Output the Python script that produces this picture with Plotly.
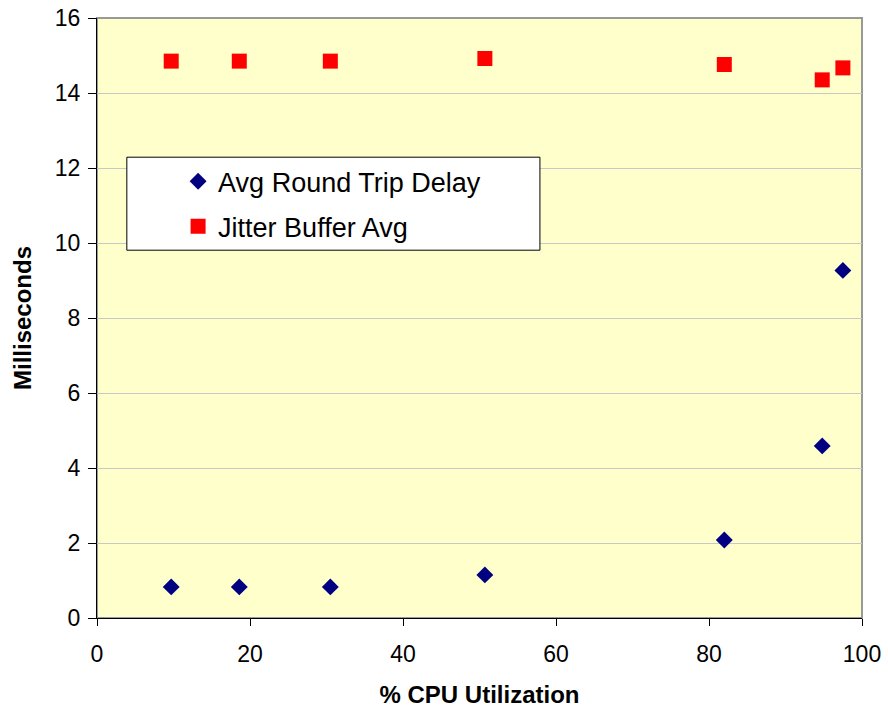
import plotly.graph_objects as go

cpu = [9.7, 18.6, 30.5, 50.7, 82.0, 94.8, 97.5]
rtt = [0.83, 0.83, 0.83, 1.15, 2.08, 4.59, 9.27]
jitter = [14.85, 14.85, 14.85, 14.92, 14.76, 14.35, 14.67]

FONT = "Liberation Sans, Arial"

fig = go.Figure()
fig.add_trace(go.Scatter(x=cpu, y=rtt, mode="markers", name="Avg Round Trip Delay",
                         legendgroup="a",
                         marker=dict(symbol="diamond", size=13, color="#000080")))
fig.add_trace(go.Scatter(x=cpu, y=jitter, mode="markers", name="Jitter Buffer Avg",
                         legendgroup="b",
                         marker=dict(symbol="square", size=15, color="#FF0000")))

fig.update_layout(
    width=888, height=711,
    margin=dict(l=97, r=26, t=18, b=93, autoexpand=False),
    paper_bgcolor="white", plot_bgcolor="#FFFFCC",
    font=dict(family=FONT, size=23, color="black"),
    showlegend=True,
    legend=dict(x=0.106, y=0.768, xanchor="left", yanchor="top",
                bgcolor="rgba(0,0,0,0)", borderwidth=0,
                font=dict(size=27, family=FONT), itemsizing="trace",
                traceorder="grouped", tracegroupgap=7),
    shapes=[
        dict(type="rect", xref="paper", yref="paper", x0=0, x1=1, y0=0, y1=1,
             line=dict(color="#999999", width=2), layer="below"),
        dict(type="rect", xref="paper", yref="paper", x0=0.039, x1=0.579, y0=0.613, y1=0.768,
             line=dict(color="black", width=1), fillcolor="white", layer="above"),
    ],
)
fig.update_xaxes(range=[0, 100], tick0=0, dtick=20, showgrid=False, zeroline=False,
                 showline=True, linecolor="black", linewidth=1,
                 ticks="outside", ticklen=7, tickcolor="black", ticklabelstandoff=8,
                 automargin=False,
                 title=dict(text="% CPU Utilization", font=dict(size=24, family=FONT, weight="bold"), standoff=20))
fig.update_yaxes(range=[0, 16], tick0=0, dtick=2, showgrid=True, gridcolor="#C8C8C8", gridwidth=1,
                 zeroline=False, showline=True, linecolor="black", linewidth=1,
                 ticks="outside", ticklen=8, tickcolor="black", ticklabelstandoff=3,
                 automargin=False,
                 title=dict(text="Milliseconds", font=dict(size=24, family=FONT, weight="bold"), standoff=16))

fig.write_html("out.html")
